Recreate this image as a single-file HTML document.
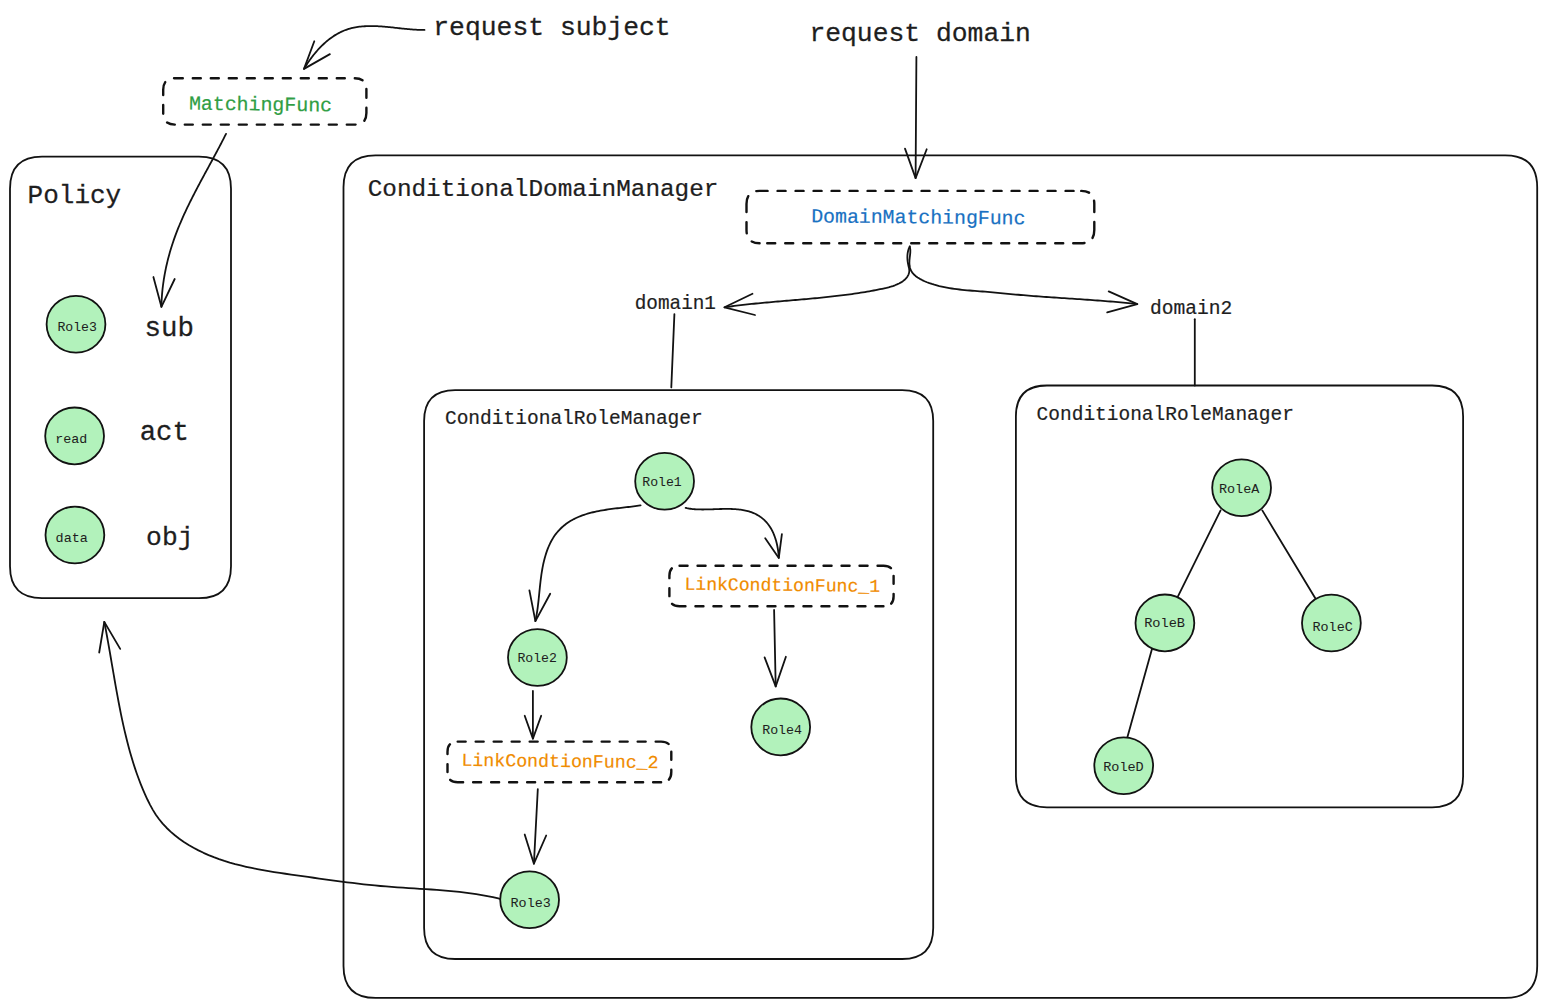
<!DOCTYPE html><html><head><meta charset="utf-8"><style>html,body{margin:0;padding:0;background:#fff;overflow:hidden}svg{display:block}text{font-family:"Liberation Mono",monospace;white-space:pre}</style></head><body>
<svg width="1546" height="1007" viewBox="0 0 1546 1007">
<rect width="1546" height="1007" fill="#ffffff"/>
<g fill="none" stroke="#121212" stroke-width="1.8" stroke-linecap="round" stroke-linejoin="round">
<path d="M42.00,156.70 L199.00,156.70 Q231.00,156.70 231.00,188.70 L231.00,566.20 Q231.00,598.20 199.00,598.20 L42.00,598.20 Q10.00,598.20 10.00,566.20 L10.00,188.70 Q10.00,156.70 42.00,156.70 Z"/>
<path d="M375.50,155.30 L1505.20,155.30 Q1537.20,155.30 1537.20,187.30 L1537.20,965.90 Q1537.20,997.90 1505.20,997.90 L375.50,997.90 Q343.50,997.90 343.50,965.90 L343.50,187.30 Q343.50,155.30 375.50,155.30 Z"/>
<path d="M455.10,390.10 L902.20,390.10 Q933.20,390.10 933.20,421.10 L933.20,928.00 Q933.20,959.00 902.20,959.00 L455.10,959.00 Q424.10,959.00 424.10,928.00 L424.10,421.10 Q424.10,390.10 455.10,390.10 Z"/>
<path d="M1046.90,385.50 L1432.10,385.50 Q1463.10,385.50 1463.10,416.50 L1463.10,776.30 Q1463.10,807.30 1432.10,807.30 L1046.90,807.30 Q1015.90,807.30 1015.90,776.30 L1015.90,416.50 Q1015.90,385.50 1046.90,385.50 Z"/>
<path d="M174.80,78.20 L354.80,78.20 M354.80,78.20 Q366.40,78.20 366.40,89.80 M366.40,89.80 L366.40,113.00 M366.40,113.00 Q366.40,124.60 354.80,124.60 M354.80,124.60 L174.80,124.60 M174.80,124.60 Q163.20,124.60 163.20,113.00 M163.20,113.00 L163.20,89.80 M163.20,89.80 Q163.20,78.20 174.80,78.20" stroke-width="2.4" stroke-dasharray="8 10" stroke-linecap="round"/>
<path d="M759.58,190.90 L1081.22,190.90 M1081.22,190.90 Q1094.30,190.90 1094.30,203.97 M1094.30,203.97 L1094.30,230.12 M1094.30,230.12 Q1094.30,243.20 1081.22,243.20 M1081.22,243.20 L759.58,243.20 M759.58,243.20 Q746.50,243.20 746.50,230.12 M746.50,230.12 L746.50,203.97 M746.50,203.97 Q746.50,190.90 759.58,190.90" stroke-width="2.4" stroke-dasharray="8 10" stroke-linecap="round"/>
<path d="M679.55,565.70 L883.45,565.70 M883.45,565.70 Q893.60,565.70 893.60,575.85 M893.60,575.85 L893.60,596.15 M893.60,596.15 Q893.60,606.30 883.45,606.30 M883.45,606.30 L679.55,606.30 M679.55,606.30 Q669.40,606.30 669.40,596.15 M669.40,596.15 L669.40,575.85 M669.40,575.85 Q669.40,565.70 679.55,565.70" stroke-width="2.4" stroke-dasharray="8 10" stroke-linecap="round"/>
<path d="M457.67,741.60 L661.12,741.60 M661.12,741.60 Q671.30,741.60 671.30,751.77 M671.30,751.77 L671.30,772.12 M671.30,772.12 Q671.30,782.30 661.12,782.30 M661.12,782.30 L457.67,782.30 M457.67,782.30 Q447.50,782.30 447.50,772.12 M447.50,772.12 L447.50,751.77 M447.50,751.77 Q447.50,741.60 457.67,741.60" stroke-width="2.4" stroke-dasharray="8 10" stroke-linecap="round"/>
<path d="M674.40,314.10 L671.30,387.40"/>
<path d="M1194.80,319.20 L1194.80,385.60"/>
<path d="M1220.60,510.40 L1177.70,596.80"/>
<path d="M1262.30,510.40 L1315.30,598.30"/>
<path d="M1152.40,647.50 L1127.10,738.30"/>
<path d="M424.50,29.90 L424.16,29.90 L422.79,29.91 L421.42,29.90 L420.05,29.87 L418.68,29.83 L417.31,29.78 L415.94,29.71 L414.57,29.63 L413.20,29.54 L411.83,29.44 L410.46,29.34 L409.09,29.22 L407.72,29.10 L406.35,28.96 L404.98,28.83 L403.61,28.69 L402.24,28.54 L400.87,28.39 L399.49,28.24 L398.12,28.09 L396.75,27.93 L395.37,27.78 L393.99,27.63 L392.62,27.48 L391.24,27.33 L389.86,27.19 L388.48,27.05 L387.10,26.92 L385.72,26.79 L384.34,26.67 L382.95,26.56 L381.57,26.45 L380.18,26.36 L378.79,26.28 L377.40,26.21 L376.01,26.15 L374.62,26.10 L373.23,26.07 L371.83,26.05 L370.44,26.05 L369.05,26.07 L367.66,26.10 L366.27,26.15 L364.89,26.23 L363.50,26.32 L362.13,26.43 L360.75,26.57 L359.38,26.73 L358.02,26.91 L356.67,27.12 L355.32,27.35 L353.98,27.61 L352.64,27.90 L351.32,28.22 L350.01,28.56 L348.70,28.94 L347.41,29.35 L346.13,29.79 L344.86,30.26 L343.61,30.77 L342.36,31.30 L341.13,31.87 L339.91,32.47 L338.70,33.10 L337.51,33.75 L336.33,34.43 L335.16,35.14 L334.00,35.87 L332.86,36.63 L331.73,37.42 L330.61,38.23 L329.51,39.06 L328.42,39.91 L327.34,40.78 L326.27,41.68 L325.22,42.59 L324.19,43.52 L323.17,44.47 L322.16,45.44 L321.16,46.42 L320.18,47.42 L319.22,48.43 L318.26,49.46 L317.33,50.50 L316.40,51.56 L315.49,52.62 L314.60,53.70 L313.72,54.79 L312.85,55.88 L312.00,56.99 L311.17,58.10 L310.35,59.22 L309.55,60.34 L308.76,61.47 L307.98,62.61 L307.22,63.75 L306.48,64.89 L305.75,66.03 L305.04,67.18 L304.34,68.33 L304.00,68.90"/>
<path d="M314.3,41.3 L304,68.9 L329.9,54.1"/>
<path d="M226.00,133.90 L225.79,134.32 L224.96,135.97 L224.12,137.63 L223.27,139.29 L222.42,140.94 L221.57,142.60 L220.71,144.25 L219.84,145.90 L218.97,147.55 L218.10,149.20 L217.22,150.85 L216.34,152.50 L215.46,154.15 L214.57,155.79 L213.68,157.44 L212.79,159.09 L211.90,160.73 L211.01,162.38 L210.11,164.03 L209.22,165.67 L208.32,167.32 L207.43,168.97 L206.53,170.62 L205.63,172.27 L204.74,173.92 L203.85,175.57 L202.95,177.22 L202.06,178.87 L201.17,180.52 L200.29,182.18 L199.41,183.84 L198.52,185.49 L197.65,187.15 L196.77,188.81 L195.90,190.48 L195.04,192.14 L194.18,193.81 L193.32,195.47 L192.47,197.15 L191.63,198.82 L190.79,200.49 L189.95,202.17 L189.13,203.85 L188.31,205.53 L187.49,207.22 L186.69,208.91 L185.89,210.60 L185.10,212.29 L184.32,213.99 L183.55,215.69 L182.78,217.40 L182.03,219.11 L181.28,220.82 L180.55,222.53 L179.82,224.25 L179.11,225.98 L178.40,227.70 L177.71,229.44 L177.03,231.17 L176.36,232.91 L175.70,234.65 L175.06,236.40 L174.43,238.16 L173.81,239.92 L173.20,241.68 L172.61,243.45 L172.03,245.22 L171.47,247.00 L170.92,248.78 L170.38,250.56 L169.86,252.35 L169.35,254.15 L168.85,255.95 L168.37,257.75 L167.91,259.56 L167.46,261.37 L167.02,263.18 L166.60,265.00 L166.19,266.82 L165.80,268.65 L165.43,270.48 L165.07,272.31 L164.73,274.15 L164.40,275.99 L164.09,277.84 L163.79,279.68 L163.51,281.53 L163.25,283.39 L163.00,285.25 L162.77,287.11 L162.56,288.97 L162.36,290.83 L162.19,292.70 L162.02,294.57 L161.88,296.45 L161.75,298.32 L161.64,300.20 L161.55,302.09 L161.48,303.97 L161.42,305.86 L161.40,306.80"/>
<path d="M153.4,277 L161.4,306.8 L174.7,279"/>
<path d="M916.40,57.00 L915.60,178.10"/>
<path d="M905,148.6 L915.6,178.1 L926.7,149.3"/>
<path d="M909.80,246.30 L909.55,246.81 L908.71,248.87 L908.08,250.98 L907.65,253.12 L907.42,255.29 L907.36,257.48 L907.46,259.68 L907.71,261.88 L908.09,264.06 L908.57,266.23 L909.06,268.36 L909.33,270.47 L909.15,272.54 L908.52,274.55 L907.51,276.44 L906.20,278.19 L904.65,279.76 L902.91,281.15 L901.03,282.39 L899.04,283.48 L896.99,284.44 L894.92,285.29 L892.82,286.05 L890.72,286.71 L888.60,287.30 L886.47,287.84 L884.34,288.33 L882.19,288.79 L880.05,289.24 L877.91,289.67 L875.76,290.09 L873.61,290.50 L871.46,290.90 L869.30,291.29 L867.15,291.66 L864.99,292.03 L862.83,292.38 L860.67,292.73 L858.51,293.07 L856.35,293.40 L854.18,293.71 L852.02,294.02 L849.85,294.33 L847.68,294.62 L845.51,294.91 L843.34,295.19 L841.17,295.46 L838.99,295.72 L836.82,295.98 L834.64,296.23 L832.47,296.48 L830.29,296.72 L828.11,296.95 L825.93,297.18 L823.75,297.40 L821.57,297.62 L819.39,297.84 L817.21,298.05 L815.02,298.26 L812.84,298.46 L810.66,298.67 L808.47,298.86 L806.29,299.06 L804.10,299.25 L801.91,299.45 L799.73,299.64 L797.54,299.82 L795.36,300.01 L793.17,300.20 L790.98,300.38 L788.80,300.57 L786.61,300.76 L784.42,300.94 L782.24,301.13 L780.05,301.32 L777.86,301.51 L775.68,301.70 L773.49,301.89 L771.31,302.08 L769.12,302.28 L766.94,302.48 L764.75,302.68 L762.57,302.89 L760.39,303.09 L758.21,303.31 L756.02,303.52 L753.84,303.74 L751.66,303.97 L749.48,304.20 L747.31,304.44 L745.13,304.68 L742.95,304.92 L740.78,305.18 L738.60,305.44 L736.43,305.70 L734.26,305.98 L732.09,306.26 L729.92,306.55 L727.75,306.84 L725.58,307.14 L724.50,307.30"/>
<path d="M752.5,293.8 L724.5,307.3 L755,315"/>
<path d="M909.80,246.80 L909.97,247.38 L910.33,249.79 L910.31,252.33 L910.06,254.95 L909.73,257.62 L909.46,260.30 L909.37,262.95 L909.54,265.53 L910.02,267.99 L910.86,270.27 L912.10,272.34 L913.67,274.22 L915.53,275.92 L917.60,277.46 L919.84,278.84 L922.17,280.08 L924.55,281.21 L926.96,282.22 L929.39,283.14 L931.85,283.97 L934.32,284.72 L936.80,285.41 L939.29,286.05 L941.79,286.63 L944.29,287.16 L946.81,287.65 L949.33,288.09 L951.85,288.50 L954.39,288.87 L956.92,289.21 L959.47,289.51 L962.01,289.79 L964.56,290.05 L967.12,290.29 L969.67,290.52 L972.23,290.73 L974.79,290.93 L977.35,291.12 L979.91,291.31 L982.48,291.50 L985.04,291.69 L987.60,291.89 L990.16,292.10 L992.72,292.33 L995.28,292.56 L997.84,292.80 L1000.39,293.05 L1002.95,293.30 L1005.51,293.55 L1008.06,293.80 L1010.62,294.05 L1013.17,294.30 L1015.73,294.54 L1018.29,294.77 L1020.84,295.00 L1023.40,295.22 L1025.96,295.43 L1028.52,295.64 L1031.08,295.85 L1033.64,296.05 L1036.20,296.24 L1038.76,296.43 L1041.32,296.62 L1043.88,296.80 L1046.44,296.99 L1049.00,297.16 L1051.56,297.34 L1054.12,297.51 L1056.69,297.69 L1059.25,297.86 L1061.81,298.03 L1064.37,298.20 L1066.93,298.37 L1069.49,298.53 L1072.06,298.70 L1074.62,298.87 L1077.18,299.04 L1079.74,299.22 L1082.30,299.39 L1084.86,299.56 L1087.43,299.74 L1089.99,299.92 L1092.55,300.10 L1095.11,300.29 L1097.67,300.48 L1100.23,300.67 L1102.79,300.87 L1105.35,301.07 L1107.91,301.28 L1110.46,301.49 L1113.02,301.70 L1115.58,301.93 L1118.14,302.16 L1120.69,302.39 L1123.25,302.63 L1125.81,302.88 L1128.36,303.14 L1130.92,303.40 L1133.47,303.68 L1136.02,303.96 L1137.30,304.10"/>
<path d="M1108.7,291.4 L1137.3,304.1 L1107.2,312.4"/>
<path d="M640.60,505.30 L640.19,505.37 L638.55,505.63 L636.89,505.88 L635.20,506.11 L633.49,506.34 L631.75,506.56 L630.00,506.78 L628.22,506.99 L626.43,507.19 L624.63,507.40 L622.81,507.61 L620.98,507.81 L619.13,508.03 L617.28,508.24 L615.42,508.47 L613.55,508.70 L611.68,508.94 L609.81,509.19 L607.93,509.46 L606.05,509.74 L604.18,510.04 L602.30,510.35 L600.43,510.69 L598.57,511.04 L596.71,511.42 L594.87,511.82 L593.03,512.25 L591.20,512.70 L589.39,513.18 L587.59,513.70 L585.81,514.24 L584.04,514.82 L582.29,515.43 L580.57,516.08 L578.87,516.77 L577.19,517.50 L575.53,518.27 L573.90,519.08 L572.30,519.93 L570.73,520.84 L569.19,521.79 L567.69,522.79 L566.21,523.83 L564.78,524.93 L563.38,526.07 L562.03,527.26 L560.71,528.50 L559.44,529.78 L558.22,531.10 L557.05,532.47 L555.92,533.88 L554.85,535.34 L553.83,536.83 L552.86,538.36 L551.94,539.93 L551.06,541.53 L550.23,543.16 L549.44,544.81 L548.70,546.49 L548.00,548.19 L547.33,549.91 L546.71,551.65 L546.12,553.40 L545.56,555.16 L545.04,556.93 L544.56,558.70 L544.10,560.49 L543.67,562.28 L543.27,564.07 L542.90,565.87 L542.55,567.68 L542.22,569.49 L541.91,571.31 L541.62,573.13 L541.35,574.95 L541.10,576.78 L540.86,578.60 L540.63,580.43 L540.42,582.26 L540.21,584.10 L540.01,585.93 L539.82,587.76 L539.63,589.60 L539.45,591.43 L539.27,593.26 L539.08,595.09 L538.90,596.91 L538.71,598.73 L538.52,600.55 L538.32,602.37 L538.11,604.18 L537.89,605.99 L537.66,607.79 L537.42,609.59 L537.16,611.38 L536.88,613.16 L536.59,614.94 L536.28,616.71 L535.94,618.47 L535.59,620.23 L535.40,621.10"/>
<path d="M529.4,590.3 L535.4,621.1 L550.2,593.7"/>
<path d="M685.60,507.90 L685.86,507.96 L686.92,508.20 L688.00,508.41 L689.10,508.60 L690.21,508.76 L691.34,508.91 L692.48,509.04 L693.63,509.15 L694.80,509.24 L695.98,509.31 L697.18,509.37 L698.38,509.42 L699.60,509.45 L700.83,509.47 L702.06,509.48 L703.31,509.48 L704.56,509.47 L705.82,509.45 L707.09,509.43 L708.37,509.40 L709.65,509.36 L710.93,509.32 L712.22,509.28 L713.52,509.24 L714.82,509.19 L716.12,509.15 L717.43,509.10 L718.73,509.06 L720.04,509.02 L721.35,508.99 L722.66,508.96 L723.96,508.94 L725.27,508.93 L726.57,508.92 L727.87,508.93 L729.17,508.94 L730.47,508.97 L731.76,509.01 L733.04,509.06 L734.32,509.13 L735.59,509.21 L736.86,509.31 L738.12,509.43 L739.37,509.57 L740.61,509.73 L741.84,509.91 L743.06,510.11 L744.28,510.33 L745.48,510.58 L746.67,510.85 L747.84,511.15 L749.01,511.47 L750.16,511.83 L751.29,512.21 L752.41,512.62 L753.52,513.07 L754.61,513.55 L755.68,514.06 L756.74,514.60 L757.77,515.18 L758.79,515.79 L759.79,516.44 L760.77,517.13 L761.72,517.84 L762.66,518.59 L763.57,519.37 L764.45,520.18 L765.31,521.02 L766.14,521.89 L766.94,522.79 L767.72,523.72 L768.46,524.68 L769.18,525.67 L769.87,526.68 L770.52,527.72 L771.15,528.78 L771.75,529.87 L772.32,530.97 L772.86,532.10 L773.38,533.24 L773.87,534.39 L774.33,535.56 L774.77,536.75 L775.18,537.94 L775.57,539.15 L775.93,540.36 L776.27,541.58 L776.59,542.80 L776.89,544.03 L777.16,545.26 L777.41,546.49 L777.64,547.72 L777.85,548.94 L778.04,550.17 L778.21,551.38 L778.35,552.59 L778.48,553.79 L778.60,554.98 L778.69,556.16 L778.77,557.32 L778.80,557.90"/>
<path d="M765.2,538.2 L778.8,557.9 L781.9,534.1"/>
<path d="M774.10,609.90 L775.70,686.40"/>
<path d="M764.6,657.4 L775.7,686.4 L785.9,656.8"/>
<path d="M532.90,690.90 L532.90,738.60"/>
<path d="M524.7,715.8 L532.9,738.6 L541.2,715.8"/>
<path d="M537.80,789.20 L533.90,863.70"/>
<path d="M524.7,834.5 L533.9,863.7 L546.2,835.5"/>
<path d="M499.70,898.80 L498.33,898.47 L492.86,897.22 L487.35,896.09 L481.81,895.08 L476.26,894.16 L470.68,893.34 L465.08,892.61 L459.47,891.95 L453.84,891.37 L448.20,890.84 L442.55,890.36 L436.90,889.92 L431.24,889.52 L425.57,889.14 L419.91,888.78 L414.24,888.43 L408.58,888.07 L402.93,887.71 L397.29,887.32 L391.65,886.91 L386.03,886.46 L380.43,885.98 L374.83,885.44 L369.25,884.88 L363.68,884.27 L358.12,883.63 L352.56,882.97 L347.00,882.28 L341.44,881.56 L335.88,880.83 L330.32,880.08 L324.75,879.31 L319.17,878.53 L313.58,877.75 L307.99,876.96 L302.37,876.17 L296.74,875.37 L291.10,874.58 L285.45,873.76 L279.80,872.92 L274.15,872.04 L268.51,871.12 L262.89,870.14 L257.28,869.09 L251.70,867.97 L246.15,866.77 L240.64,865.46 L235.16,864.05 L229.74,862.52 L224.36,860.87 L219.05,859.08 L213.79,857.15 L208.61,855.06 L203.49,852.81 L198.46,850.37 L193.51,847.76 L188.65,844.94 L183.90,841.93 L179.28,838.71 L174.83,835.27 L170.56,831.61 L166.50,827.73 L162.67,823.61 L159.12,819.26 L155.84,814.67 L152.85,809.86 L150.09,804.87 L147.53,799.77 L145.14,794.58 L142.87,789.35 L140.72,784.09 L138.69,778.80 L136.76,773.48 L134.93,768.13 L133.20,762.75 L131.55,757.36 L129.99,751.94 L128.51,746.50 L127.09,741.04 L125.74,735.57 L124.44,730.09 L123.20,724.59 L122.01,719.08 L120.86,713.56 L119.76,708.03 L118.69,702.49 L117.65,696.94 L116.63,691.39 L115.64,685.83 L114.66,680.27 L113.70,674.71 L112.75,669.14 L111.79,663.57 L110.84,658.00 L109.88,652.44 L108.91,646.88 L107.93,641.32 L106.92,635.76 L105.90,630.21 L104.84,624.67 L104.30,621.90"/>
<path d="M99.2,652.5 L104.3,621.9 L120.2,648.9"/>
</g>
<g fill="#b2f2bb" stroke="#121212" stroke-width="1.8">
<ellipse cx="76.0" cy="324.3" rx="29.4" ry="28.4"/>
<ellipse cx="74.6" cy="435.9" rx="29.4" ry="28.4"/>
<ellipse cx="74.9" cy="535.0" rx="29.4" ry="28.4"/>
<ellipse cx="664.6" cy="481.2" rx="29.4" ry="28.4"/>
<ellipse cx="537.4" cy="657.5" rx="29.4" ry="28.4"/>
<ellipse cx="780.7" cy="726.9" rx="29.4" ry="28.4"/>
<ellipse cx="529.6" cy="899.8" rx="29.4" ry="28.4"/>
<ellipse cx="1241.6" cy="487.8" rx="29.4" ry="28.4"/>
<ellipse cx="1164.9" cy="622.9" rx="29.4" ry="28.4"/>
<ellipse cx="1331.4" cy="623.0" rx="29.4" ry="28.4"/>
<ellipse cx="1123.7" cy="765.7" rx="29.4" ry="28.4"/>
</g>
<g>
<text x="433.28" y="34.90" font-size="26.38" fill="#1e1e1e" stroke="#1e1e1e" stroke-width="0.26">request subject</text>
<text x="809.38" y="40.60" font-size="26.37" fill="#1e1e1e" stroke="#1e1e1e" stroke-width="0.26">request domain</text>
<text x="188.88" y="109.60" font-size="19.89" fill="#2f9e44" stroke="#2f9e44" stroke-width="0.20" transform="rotate(0.74 189.4 109.6)">MatchingFunc</text>
<text x="27.60" y="203.10" font-size="26.00" fill="#1e1e1e" stroke="#1e1e1e" stroke-width="0.26">Policy</text>
<text x="57.39" y="331.00" font-size="13.17" fill="#1e1e1e" stroke="#1e1e1e" stroke-width="0.05">Role3</text>
<text x="55.19" y="443.20" font-size="13.34" fill="#1e1e1e" stroke="#1e1e1e" stroke-width="0.05">read</text>
<text x="55.56" y="542.10" font-size="13.47" fill="#1e1e1e" stroke="#1e1e1e" stroke-width="0.05">data</text>
<text x="144.47" y="336.00" font-size="27.43" fill="#1e1e1e" stroke="#1e1e1e" stroke-width="0.27">sub</text>
<text x="139.72" y="440.40" font-size="27.32" fill="#1e1e1e" stroke="#1e1e1e" stroke-width="0.27">act</text>
<text x="146.08" y="544.50" font-size="26.34" fill="#1e1e1e" stroke="#1e1e1e" stroke-width="0.26">obj</text>
<text x="367.65" y="195.60" font-size="24.36" fill="#1e1e1e" stroke="#1e1e1e" stroke-width="0.24">ConditionalDomainManager</text>
<text x="811.21" y="222.30" font-size="19.84" fill="#1971c2" stroke="#1971c2" stroke-width="0.20" transform="rotate(0.56 811.9 222.3)">DomainMatchingFunc</text>
<text x="634.72" y="308.90" font-size="19.35" fill="#1e1e1e" stroke="#1e1e1e" stroke-width="0.19">domain1</text>
<text x="1150.03" y="314.30" font-size="19.60" fill="#1e1e1e" stroke="#1e1e1e" stroke-width="0.20">domain2</text>
<text x="444.92" y="424.10" font-size="19.54" fill="#1e1e1e" stroke="#1e1e1e" stroke-width="0.20">ConditionalRoleManager</text>
<text x="1036.62" y="420.10" font-size="19.49" fill="#1e1e1e" stroke="#1e1e1e" stroke-width="0.19">ConditionalRoleManager</text>
<text x="642.29" y="486.20" font-size="13.17" fill="#1e1e1e" stroke="#1e1e1e" stroke-width="0.05">Role1</text>
<text x="684.42" y="589.70" font-size="18.11" fill="#f08c00" stroke="#f08c00" stroke-width="0.18" transform="rotate(0.68 685.6 589.7)">LinkCondtionFunc_1</text>
<text x="517.44" y="661.80" font-size="13.17" fill="#1e1e1e" stroke="#1e1e1e" stroke-width="0.05">Role2</text>
<text x="762.20" y="733.70" font-size="13.27" fill="#1e1e1e" stroke="#1e1e1e" stroke-width="0.05">Role4</text>
<text x="461.42" y="765.80" font-size="18.25" fill="#f08c00" stroke="#f08c00" stroke-width="0.18" transform="rotate(0.68 462.4 765.8)">LinkCondtionFunc_2</text>
<text x="510.58" y="907.30" font-size="13.41" fill="#1e1e1e" stroke="#1e1e1e" stroke-width="0.05">Role3</text>
<text x="1218.95" y="493.20" font-size="13.47" fill="#1e1e1e" stroke="#1e1e1e" stroke-width="0.05">RoleA</text>
<text x="1144.20" y="627.20" font-size="13.61" fill="#1e1e1e" stroke="#1e1e1e" stroke-width="0.05">RoleB</text>
<text x="1312.54" y="630.50" font-size="13.41" fill="#1e1e1e" stroke="#1e1e1e" stroke-width="0.05">RoleC</text>
<text x="1103.19" y="771.10" font-size="13.51" fill="#1e1e1e" stroke="#1e1e1e" stroke-width="0.05">RoleD</text>
</g>
</svg></body></html>
